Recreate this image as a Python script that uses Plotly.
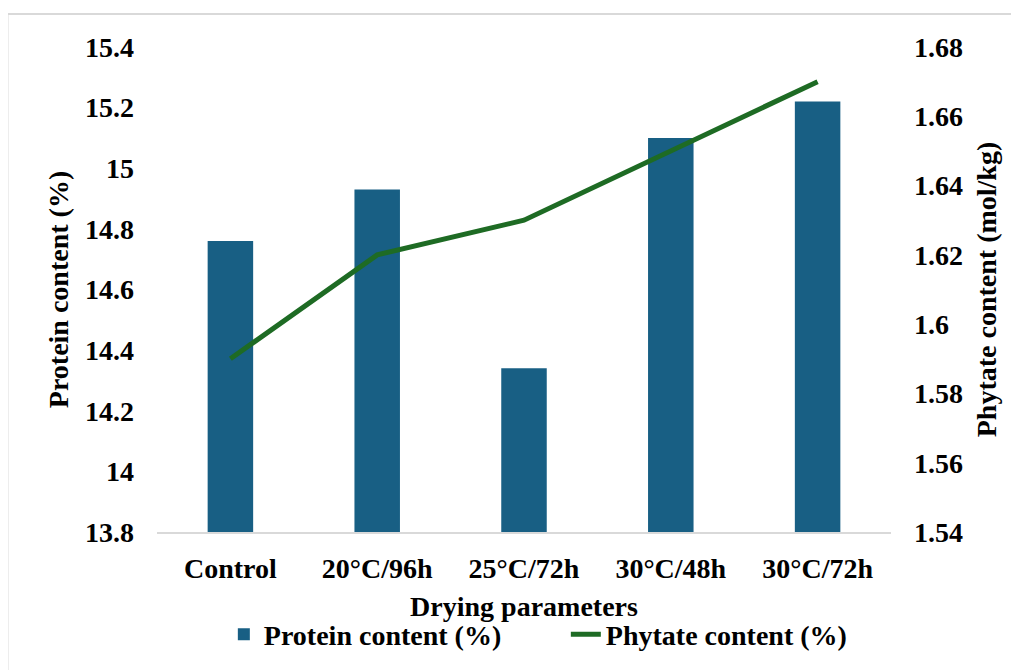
import plotly.graph_objects as go

categories = ["Control", "20°C/96h", "25°C/72h", "30°C/48h", "30°C/72h"]
protein = [14.76, 14.93, 14.34, 15.10, 15.22]
phytate = [1.59, 1.62, 1.63, 1.65, 1.67]

left_ticks = [13.8, 14.0, 14.2, 14.4, 14.6, 14.8, 15.0, 15.2, 15.4]
left_labels = ["13.8", "14", "14.2", "14.4", "14.6", "14.8", "15", "15.2", "15.4"]
right_ticks = [1.54, 1.56, 1.58, 1.60, 1.62, 1.64, 1.66, 1.68]
right_labels = ["1.54", "1.56", "1.58", "1.6", "1.62", "1.64", "1.66", "1.68"]

FONT = "Liberation Serif"
BAR = "#185f84"
LINE = "#1e6b24"
FS = 28

fig = go.Figure()
fig.add_trace(go.Bar(x=categories, y=protein, name="<b>Protein content (%)</b>",
                     marker=dict(color=BAR, line=dict(width=0)), width=0.31,
                     yaxis="y"))
fig.add_trace(go.Scatter(x=categories, y=phytate, name="<b>Phytate content (%)</b>",
                         mode="lines", line=dict(color=LINE, width=5),
                         yaxis="y2"))

fig.update_layout(
    width=1019, height=670,
    margin=dict(l=149, r=136, t=39, b=146),
    paper_bgcolor="white", plot_bgcolor="white",
    font=dict(family=FONT, size=FS, color="black"),
    showlegend=True,
    legend=dict(orientation="h", x=0.557, xanchor="center", y=-0.16, yanchor="top",
                font=dict(family=FONT, size=FS, color="black"),
                itemwidth=30, tracegroupgap=0,
                entrywidth=297, entrywidthmode="pixels"),
    xaxis=dict(showline=True, linecolor="#d9d9d9", linewidth=2, showgrid=False,
               ticks="", tickfont=dict(family=FONT, size=FS, color="black"),
               tickvals=categories,
               ticktext=["<b>%s</b>" % c for c in categories],
               ticklabelstandoff=10,
               title=dict(text="<b>Drying parameters</b>", standoff=14,
                          font=dict(family=FONT, size=FS, color="black"))),
    yaxis=dict(range=[13.8, 15.4], tickvals=left_ticks,
               ticktext=["<b>%s</b>" % t for t in left_labels],
               showgrid=False, showline=False, zeroline=False, ticks="",
               ticklabelstandoff=22,
               tickfont=dict(family=FONT, size=FS, color="black"),
               title=dict(text="<b>Protein content (%)</b>", standoff=8,
                          font=dict(family=FONT, size=FS, color="black"))),
    yaxis2=dict(range=[1.54, 1.68], tickvals=right_ticks,
                ticktext=["<b>%s</b>" % t for t in right_labels],
                overlaying="y", side="right",
                showgrid=False, showline=False, zeroline=False, ticks="",
                ticklabelstandoff=22,
                tickfont=dict(family=FONT, size=FS, color="black"),
                title=dict(text="<b>Phytate content (mol/kg)</b>", standoff=14,
                           font=dict(family=FONT, size=FS, color="black"))),
    bargap=0.69,
)

fig.add_shape(type="rect", xref="paper", yref="paper",
              x0=-0.2037, x1=1.19, y0=-0.3, y1=1.068,
              line=dict(color="#d9d9d9", width=2), fillcolor="rgba(0,0,0,0)",
              layer="below")

fig.write_html("out.html")
